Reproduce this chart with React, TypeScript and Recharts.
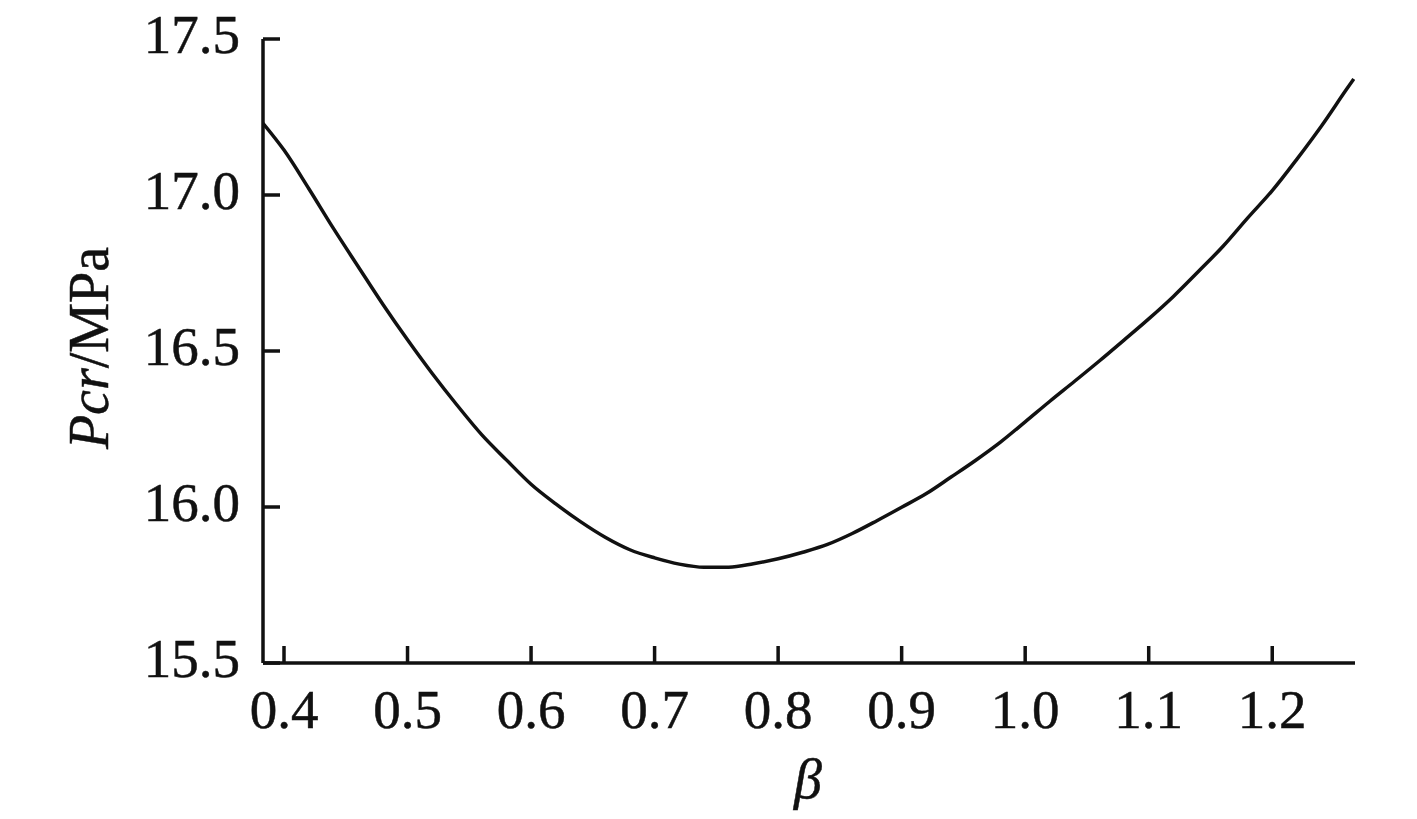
import React from 'react';
import { LineChart, Line, XAxis, YAxis, Label } from 'recharts';

// β (x) and critical pressure Pcr in MPa (y)
const betaValues = [
  0.383, 0.4, 0.42, 0.44, 0.46, 0.48, 0.5, 0.52, 0.54, 0.56, 0.58, 0.6, 0.62, 0.64, 0.66, 0.68,
  0.7, 0.72, 0.74, 0.76, 0.78, 0.8, 0.82, 0.84, 0.86, 0.88, 0.9, 0.92, 0.94, 0.96, 0.98, 1.0,
  1.02, 1.04, 1.06, 1.08, 1.1, 1.12, 1.14, 1.16, 1.18, 1.2, 1.22, 1.24, 1.26, 1.266,
];
const pcrValues = [
  17.23, 17.144, 17.021, 16.893, 16.771, 16.65, 16.536, 16.428, 16.327, 16.232, 16.151, 16.073,
  16.01, 15.953, 15.903, 15.863, 15.837, 15.817, 15.807, 15.807, 15.818, 15.834, 15.855, 15.88,
  15.915, 15.956, 15.999, 16.043, 16.096, 16.15, 16.208, 16.273, 16.339, 16.403, 16.468, 16.535,
  16.603, 16.675, 16.754, 16.835, 16.926, 17.014, 17.115, 17.222, 17.338, 17.372,
];
const xTicks = [0.4, 0.5, 0.6, 0.7, 0.8, 0.9, 1.0, 1.1, 1.2];
const yTicks = [15.5, 16.0, 16.5, 17.0, 17.5];

const data = betaValues.map((b, i) => ({ beta: b, pcr: pcrValues[i] }));

const FONT = '"Liberation Serif", "Times New Roman", serif';
const INK = '#111';

// ticks point inwards, so draw the tick mark along with the label
function YTick({ x, y, payload }: any) {
  return (
    <g>
      <line x1={x} y1={y} x2={x + 17} y2={y} stroke={INK} strokeWidth={3.5} />
      <text
        x={x - 23}
        y={y + 14}
        textAnchor="end"
        fontFamily={FONT}
        fontSize={55}
        fill={INK}
        stroke={INK}
        strokeWidth={0.5}
      >
        {payload.value.toFixed(1)}
      </text>
    </g>
  );
}

function XTick({ x, y, payload }: any) {
  return (
    <g>
      <line x1={x} y1={y} x2={x} y2={y - 17} stroke={INK} strokeWidth={3.5} />
      <text
        x={x}
        y={y + 65}
        textAnchor="middle"
        fontFamily={FONT}
        fontSize={55}
        fill={INK}
        stroke={INK}
        strokeWidth={0.5}
      >
        {payload.value.toFixed(1)}
      </text>
    </g>
  );
}

function YLabel({ viewBox }: any) {
  const cx = viewBox.x + 89;
  const cy = viewBox.y + viewBox.height / 2 - 3;
  return (
    <text
      x={cx}
      y={cy}
      transform={`rotate(-90, ${cx}, ${cy})`}
      textAnchor="middle"
      dominantBaseline="central"
      fontFamily={FONT}
      fontSize={56}
      fill={INK}
      stroke={INK}
      strokeWidth={0.5}
    >
      <tspan fontStyle="italic">Pcr</tspan>
      <tspan>/MPa</tspan>
    </text>
  );
}

function XLabel({ viewBox }: any) {
  return (
    <text
      x={viewBox.x + viewBox.width / 2 - 1}
      y={viewBox.y + 135}
      textAnchor="middle"
      fontFamily={FONT}
      fontStyle="italic"
      fontSize={56}
      fill={INK}
      stroke={INK}
      strokeWidth={0.5}
    >
      β
    </text>
  );
}

export default function App() {
  return (
    <div style={{ position: 'absolute', left: 0, top: 0, background: '#fff' }}>
      <LineChart width={1417} height={819} data={data} margin={{ top: 39, right: 62, bottom: 0, left: 0 }}>
        <XAxis
          dataKey="beta"
          type="number"
          domain={[0.383, 1.267]}
          ticks={xTicks}
          allowDataOverflow
          height={156}
          axisLine={{ stroke: INK, strokeWidth: 3.5 }}
          tickLine={false}
          tickSize={0}
          tickMargin={0}
          tick={<XTick />}
          interval={0}
        >
          <Label content={<XLabel />} />
        </XAxis>
        <YAxis
          type="number"
          domain={[15.5, 17.5]}
          ticks={yTicks}
          allowDataOverflow
          width={263}
          axisLine={{ stroke: INK, strokeWidth: 3.5 }}
          tickLine={false}
          tickSize={0}
          tickMargin={0}
          tick={<YTick />}
          interval={0}
        >
          <Label content={<YLabel />} />
        </YAxis>
        <Line
          type="monotone"
          dataKey="pcr"
          stroke={INK}
          strokeWidth={3.5}
          dot={false}
          isAnimationActive={false}
        />
      </LineChart>
    </div>
  );
}
